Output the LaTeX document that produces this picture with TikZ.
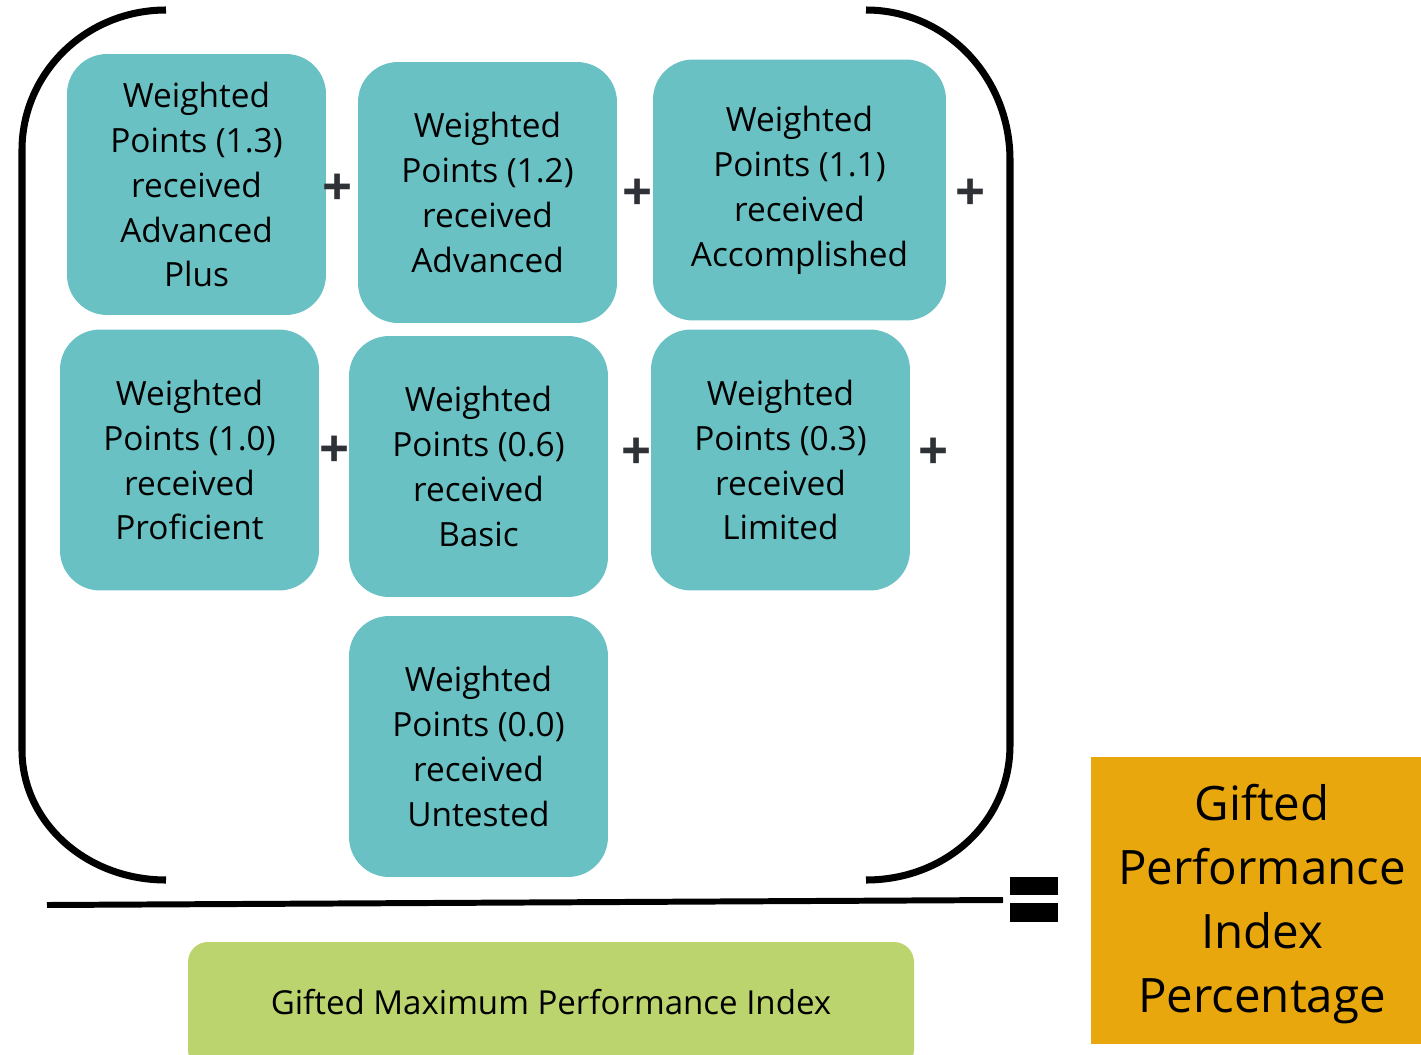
\documentclass[tikz,border=0pt]{standalone}
\usepackage{fontspec}
\setmainfont{Open Sans}
\usetikzlibrary{calc}
\definecolor{wpteal}{HTML}{6AC1C4}
\definecolor{maxgreen}{HTML}{BBD46E}
\definecolor{gpiorange}{HTML}{E8A70D}
\definecolor{plusgray}{HTML}{2E3136}
\tikzset{
  wpbox/.style={fill=wpteal, rounded corners=0.8cm, minimum width=5.18cm,
    minimum height=5.22cm, align=center, inner sep=0pt,
    font=\fontsize{19}{25.6}\selectfont},
  plussign/.style={text=plusgray, font=\fontsize{30}{30}\selectfont\bfseries, inner sep=0pt},
  brace/.style={line width=4pt, line cap=butt}
}
\begin{document}
\begin{tikzpicture}[x=0.02cm,y=-0.02cm]
\useasboundingbox (0,0) rectangle (1421,1055);
% first row
\node[wpbox] (wpAdvPlus) at (196.5,184.5) {Weighted\\Points (1.3)\\received\\Advanced\\Plus};
\node[wpbox] (wpAdv) at (487.5,192.5) {Weighted\\Points (1.2)\\received\\Advanced};
\node[wpbox, minimum width=5.86cm] (wpAcc) at (799.5,190) {Weighted\\Points (1.1)\\received\\Accomplished};
% second row
\node[wpbox] (wpProf) at (189.5,460) {Weighted\\Points (1.0)\\received\\Proficient};
\node[wpbox] (wpBasic) at (478.5,466.5) {Weighted\\Points (0.6)\\received\\Basic};
\node[wpbox] (wpLim) at (780.5,460) {Weighted\\Points (0.3)\\received\\Limited};
% third row
\node[wpbox] (wpUnt) at (478.5,746.5) {Weighted\\Points (0.0)\\received\\Untested};
% plus signs
\node[plussign] (p1) at (338,190) {+};
\node[plussign] (p2) at (638,195) {+};
\node[plussign] (p3) at (971,195) {+};
\node[plussign] (p4) at (335,452) {+};
\node[plussign] (p5) at (637,454) {+};
\node[plussign] (p6) at (934,454) {+};
% the big brackets
\draw[brace] (166,10) .. controls (86,10) and (22,73) .. (22,150) -- (22,750)
  .. controls (22,822) and (86,880) .. (166,880);
\draw[brace] (866,10) .. controls (946,10) and (1010,77) .. (1010,160) -- (1010,745)
  .. controls (1010,822) and (946,880) .. (866,880);
% fraction bar and equal sign
\coordinate (barL) at (47,905);
\coordinate (barR) at (1003,900);
\draw[line width=3.4pt] (barL) -- (barR);
\fill (1010,877) rectangle (1058,895);
\fill (1010,903) rectangle (1058,922);
% denominator
\fill[maxgreen, rounded corners=0.4cm] (188,942) rectangle (914,1070);
\node[font=\fontsize{18.8}{22}\selectfont] (gmpi) at (551,1002) {Gifted Maximum Performance Index};
% result
\fill[gpiorange] (1091,757) rectangle (1425,1044);
\node[align=center, font=\fontsize{27}{36.4}\selectfont] (gpip) at (1262,904) {Gifted\\Performance\\Index\\Percentage};
\end{tikzpicture}
\end{document}
